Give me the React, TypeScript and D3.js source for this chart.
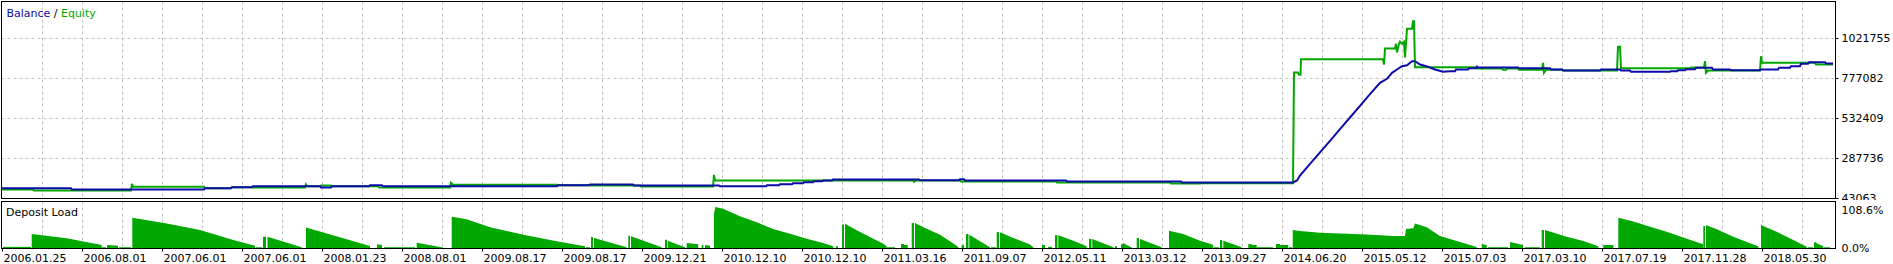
import React from "react";
import * as d3 from "d3";

// ---- data (x = deal number) ----
const balance: [number, number][] = [
  [2, 106100], [71, 106100], [72, 98100], [204, 98100], [205, 106100], [231, 106100], [232, 112200],
  [252, 112200], [253, 118300], [320, 118300], [321, 110300], [331, 110300], [332, 118300], [369, 118300],
  [370, 124400], [382, 124400], [383, 118300], [557, 118300], [558, 124400], [589, 124400], [590, 128700],
  [633, 128700], [634, 122600], [719, 122600], [720, 118300], [766, 118300], [767, 124400], [779, 124400],
  [780, 130500], [792, 130500], [793, 136700], [803, 136700], [804, 142800], [813, 142800], [814, 148900],
  [822, 148900], [823, 153200], [832, 153200], [833, 159300], [919, 159300], [920, 155000], [959, 155000],
  [960, 161100], [964, 161100], [965, 153200], [1066, 153200], [1067, 147000], [1181, 147000], [1182, 140900],
  [1293, 140900], [1297, 153200], [1300, 183700], [1310, 255300], [1320, 325100], [1330, 396000],
  [1340, 467000], [1350, 538500], [1360, 610100], [1370, 681000], [1380, 750800], [1387, 775200],
  [1392, 812000], [1397, 832100], [1402, 852300], [1407, 858400], [1412, 882900], [1415, 882900],
  [1420, 862700], [1428, 848600], [1435, 832100], [1443, 818100], [1450, 821900], [1455, 821900],
  [1456, 832100], [1468, 832100], [1469, 840100], [1476, 840100], [1477, 850500], [1478, 844400],
  [1518, 844400], [1519, 840100], [1550, 840100], [1551, 832100], [1562, 832100], [1563, 826000],
  [1600, 826000], [1601, 832100], [1620, 832100], [1621, 826000], [1630, 826000], [1631, 818100],
  [1670, 818100], [1671, 822000], [1677, 822000], [1678, 827800], [1685, 827800], [1686, 834000],
  [1695, 834000], [1696, 842500], [1712, 842500], [1713, 832100], [1730, 832100], [1731, 827800],
  [1760, 827800], [1761, 832100], [1778, 832100], [1779, 842500], [1790, 842500], [1791, 852300],
  [1800, 852300], [1801, 867000], [1808, 867000], [1809, 876800], [1825, 876800], [1826, 868800],
  [1833, 868800],
];

const equity: [number, number][] = [
  [2, 98100], [33, 98100], [34, 92000], [131, 92000], [132, 133000], [133, 114600], [204, 114600],
  [205, 106100], [231, 106100], [232, 112200], [252, 112200], [253, 110300], [305, 110300], [306, 128700],
  [307, 118300], [320, 118300], [321, 122600], [331, 122600], [332, 118300], [378, 118300], [379, 110300],
  [450, 110300], [451, 139100], [453, 126900], [557, 126900], [558, 124400], [589, 124400], [590, 122600],
  [640, 122600], [641, 116400], [713, 116400], [714, 188000], [715, 153200], [913, 153200], [914, 145200],
  [916, 153200], [960, 153200], [961, 147000], [1056, 147000], [1057, 140900], [1170, 140900],
  [1171, 134800], [1200, 134800], [1201, 136700], [1293, 136700], [1293.5, 471200], [1294, 813800],
  [1298, 813800], [1299, 799700], [1300.5, 799700], [1301, 895100], [1383, 895100], [1384, 862700],
  [1385, 960600], [1395, 960600], [1396, 989300], [1397, 936100], [1399, 989300], [1400, 1001600],
  [1402, 989300], [1404, 1001600], [1405, 905500], [1407, 1081100], [1412, 1081100], [1413, 1127600],
  [1414, 1127600], [1415, 846200], [1476, 846200], [1477, 838200], [1502, 838200], [1503, 830300],
  [1506, 830300], [1507, 838200], [1518, 838200], [1519, 830300], [1542, 830300], [1543, 873100],
  [1544, 811900], [1546, 830300], [1562, 830300], [1563, 826000], [1617, 826000], [1618, 971000],
  [1620, 971000], [1621, 840100], [1690, 840100], [1691, 844400], [1704, 844400], [1705, 882900],
  [1706, 811900], [1708, 826000], [1760, 826000], [1761, 913500], [1762, 873100], [1815, 873100],
  [1816, 862700], [1833, 862700],
];

const depositRuns: [number, number][][] = [
  [[3, 3], [31, 3]],
  [[31.7, 37], [66.7, 25.6], [101.7, 8]],
  [[102, 2], [106, 2]],
  [[107, 8], [118, 6]],
  [[119, 2], [131, 2]],
  [[132.3, 80], [166.7, 65], [200, 47.7], [233.3, 21], [255, 6]],
  [[256, 2], [262, 2]],
  [[263, 30], [266, 30]],
  [[267.5, 30], [301.7, 2]],
  [[306, 54], [338, 30], [370, 5]],
  [[377, 10], [382, 8]],
  [[384, 2], [415, 2]],
  [[416.7, 14], [443, 1]],
  [[451.7, 83], [466.7, 76], [490, 55], [523.3, 35], [556.7, 17.7], [585, 4.5]],
  [[586, 2], [590, 2]],
  [[591, 29], [593, 29]],
  [[594, 26.5], [626.7, 1.8]],
  [[628.3, 32.6], [630, 32.6]],
  [[631, 31], [661.7, 2]],
  [[665, 22], [667, 22]],
  [[667.7, 19.4], [685, 2]],
  [[686.7, 13], [698.3, 10]],
  [[701.7, 8], [703.3, 8]],
  [[705, 8], [710, 6]],
  [[714, 91], [715.3, 108.6], [723, 104], [740, 84], [756.7, 68], [773, 50], [790, 38], [806.7, 24.6], [823, 13], [833.3, 4.5]],
  [[836, 4.5], [838, 4.5]],
  [[842, 62], [844, 62]],
  [[845, 64], [856.7, 47], [873.3, 24.6], [883.3, 11], [886.7, 4.5]],
  [[887, 2], [895, 2]],
  [[901, 10.6], [904, 10.6], [904, 8], [907.7, 8]],
  [[911.7, 66], [914, 66]],
  [[915, 66], [923.3, 55], [940, 35], [956.7, 6], [958.3, 2]],
  [[961.7, 8], [964, 8]],
  [[966, 37], [968.5, 37]],
  [[969.3, 35], [990, 2]],
  [[991, 2], [996, 2]],
  [[996.7, 42], [999, 42]],
  [[1000, 42], [1013.3, 26.5], [1030, 9], [1033.3, 2]],
  [[1042, 8], [1045, 8]],
  [[1048, 3], [1052, 3]],
  [[1055, 34], [1057.5, 34]],
  [[1058.3, 34], [1073.3, 19], [1086.7, 4.5]],
  [[1089, 24], [1091.5, 24]],
  [[1092.3, 24], [1113.3, 2]],
  [[1115, 4.5], [1117, 4.5]],
  [[1121, 10], [1123, 10], [1123, 13], [1131.7, 1]],
  [[1136.7, 26.5], [1139, 26.5]],
  [[1140, 24], [1161.7, 2]],
  [[1169, 46], [1183.3, 37], [1200, 19], [1210, 11], [1213.3, 8]],
  [[1214, 2], [1219, 2]],
  [[1220, 21], [1222.3, 21]],
  [[1223.3, 19], [1241.7, 2]],
  [[1248.3, 10.6], [1251.7, 10.6], [1251.7, 8], [1256.7, 8]],
  [[1257, 2], [1273, 2]],
  [[1276, 10.6], [1280, 10.6], [1280, 8], [1288.3, 8]],
  [[1289, 2], [1292, 2]],
  [[1292.7, 47.7], [1300, 45], [1320, 40.5], [1366.7, 36], [1393.3, 31.8], [1405, 32], [1406, 50], [1413.3, 52], [1415, 65], [1426.7, 55], [1440, 32], [1453.3, 21], [1466.7, 10.6], [1476.7, 2.6]],
  [[1481.7, 10.6], [1486.7, 8]],
  [[1488, 2], [1508, 2]],
  [[1510, 16], [1523, 8]],
  [[1525, 2], [1540, 2]],
  [[1541.7, 47.7], [1544, 47.7]],
  [[1545, 47.7], [1566.7, 30], [1583.3, 18.5], [1598.3, 4.5]],
  [[1603.3, 8], [1613.3, 8]],
  [[1618.3, 80], [1633.3, 70], [1650, 56], [1666.7, 43], [1683.3, 28], [1700, 12.4], [1703, 10.6]],
  [[1703.3, 58], [1705, 58]],
  [[1706, 61], [1716.7, 49.5], [1733.3, 30], [1750, 12.4], [1758.3, 4.5]],
  [[1761, 61], [1776.7, 43], [1793.3, 21], [1806.7, 3.5]],
  [[1808, 2], [1813, 2]],
  [[1814, 15], [1816, 15], [1816.7, 12.4], [1823.3, 4.5]],
  [[1824, 2], [1830, 2]],
];

const dateLabels = [
  "2006.01.25", "2006.08.01", "2007.06.01", "2007.06.01", "2008.01.23", "2008.08.01",
  "2009.08.17", "2009.08.17", "2009.12.21", "2010.12.10", "2010.12.10", "2011.03.16",
  "2011.09.07", "2012.05.11", "2013.03.12", "2013.09.27", "2014.06.20", "2015.05.12",
  "2015.07.03", "2017.03.10", "2017.07.19", "2017.11.28", "2018.05.30",
];
const valueTicks = [1021755, 777082, 532409, 287736, 43063];
const loadMax = 108.6;
const loadLabels = ["108.6%", "0.0%"];

// ---- layout ----
const W = 1893;
const H = 264;
const L = 1.5;
const R = 1835.5;
const mainTop = 1.5;
const mainBottom = 198.5;
const depTop = 201.5;
const depBottom = 248.5;
const FONT = "Tahoma, 'DejaVu Sans', sans-serif";
const BLUE = "#0b0ba8";
const GREEN = "#00a800";
const GRID = "#c4c4c4";

export default function App() {
  const x = d3.scaleLinear().domain([0, 1836]).range([0, 1836]);
  const y = d3.scaleLinear().domain([43063, 1021755]).range([198.5, 38.5]);
  const yd = d3.scaleLinear().domain([0, loadMax]).range([248, 207]);

  const line = d3
    .line<[number, number]>()
    .x((d) => x(d[0]))
    .y((d) => y(d[1]));
  const area = d3
    .area<[number, number]>()
    .x((d) => x(d[0]))
    .y0(yd(0))
    .y1((d) => yd(d[1]));

  const gridDeals = d3.range(42.5, 1835, 40);
  const labelDeals = dateLabels.map((_, i) => 2.5 + i * 80);

  return (
    <svg
      width={W}
      height={H}
      style={{ position: "absolute", left: 0, top: 0, display: "block", background: "#fff" }}
      fontFamily={FONT}
      fontSize={11}
    >
      <defs>
        <clipPath id="mainClip">
          <rect x={L + 0.5} y={mainTop + 0.5} width={R - L - 1} height={mainBottom - mainTop - 1} />
        </clipPath>
        <clipPath id="labelClip">
          <rect x={R} y={0} width={W - R} height={200} />
        </clipPath>
      </defs>
      <rect x={0} y={0} width={W} height={H} fill="#fff" />

      {/* main grid */}
      {gridDeals.map((g) => (
        <line key={"gv" + g} x1={x(g)} x2={x(g)} y1={mainTop} y2={mainBottom} stroke={GRID} strokeDasharray="3,3" />
      ))}
      {valueTicks.slice(0, 4).map((v) => (
        <line key={"gh" + v} x1={L} x2={R} y1={y(v)} y2={y(v)} stroke={GRID} strokeDasharray="3,3" />
      ))}

      {/* deposit grid */}
      {gridDeals.map((g) => (
        <line key={"dv" + g} x1={x(g)} x2={x(g)} y1={depTop} y2={depBottom} stroke={GRID} strokeDasharray="3,3" />
      ))}

      {/* lines */}
      <g clipPath="url(#mainClip)">
        <path d={line(equity) || ""} fill="none" stroke={GREEN} strokeWidth={2} />
        <path d={line(balance) || ""} fill="none" stroke={BLUE} strokeWidth={2} />
      </g>

      {/* deposit load */}
      {depositRuns.map((run, i) => (
        <path key={"dr" + i} d={area(run) || ""} fill={GREEN} />
      ))}

      {/* borders */}
      <rect x={L} y={mainTop} width={R - L} height={mainBottom - mainTop} fill="none" stroke="#000" />
      <rect x={L} y={depTop} width={R - L} height={depBottom - depTop} fill="none" stroke="#000" />

      {/* right value axis */}
      <g clipPath="url(#labelClip)">
        {valueTicks.map((v) => (
          <g key={"vt" + v}>
            <line x1={R} x2={R + 3} y1={y(v)} y2={y(v)} stroke="#000" />
            <text x={1841.5} y={y(v)} dominantBaseline="central" fill="#000">
              {v}
            </text>
          </g>
        ))}
      </g>
      <text x={1841.5} y={yd(loadMax) + 3} dominantBaseline="central" fill="#000">
        {loadLabels[0]}
      </text>
      <text x={1841.5} y={yd(0)} dominantBaseline="central" fill="#000">
        {loadLabels[1]}
      </text>

      {/* bottom date axis */}
      {labelDeals.map((d, i) => (
        <g key={"dl" + i}>
          <line x1={x(d)} x2={x(d)} y1={depBottom} y2={depBottom + 3} stroke="#000" />
          <text x={x(d) + 1} y={262} fill="#000">
            {dateLabels[i]}
          </text>
        </g>
      ))}

      {/* legends */}
      <text x={6.5} y={16.5}>
        <tspan fill={BLUE}>Balance</tspan>
        <tspan fill="#000"> / </tspan>
        <tspan fill={GREEN}>Equity</tspan>
      </text>
      <text x={6} y={215.5} fill="#000">
        Deposit Load
      </text>
    </svg>
  );
}
